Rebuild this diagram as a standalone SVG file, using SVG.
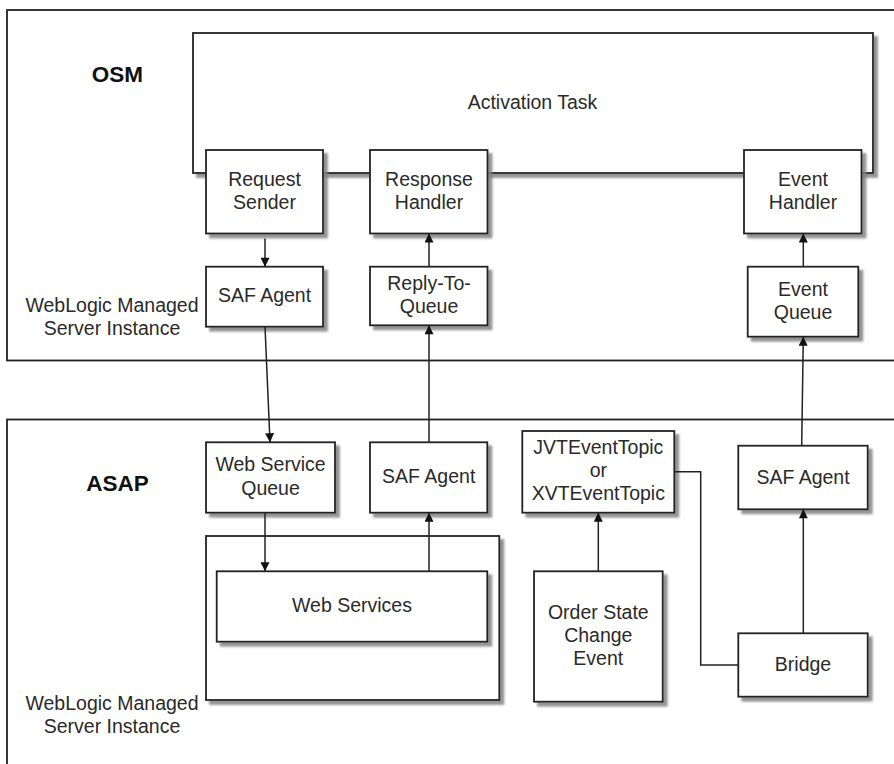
<svg xmlns="http://www.w3.org/2000/svg" width="894" height="764" viewBox="0 0 894 764">
<defs>
<filter id="ds" x="-10%" y="-10%" width="130%" height="130%">
<feDropShadow dx="4" dy="4" stdDeviation="1.3" flood-color="#808080" flood-opacity="0.85"/>
</filter>
<marker id="ah" viewBox="0 0 10 10" refX="10" refY="5" markerWidth="10" markerHeight="9" markerUnits="userSpaceOnUse" orient="auto">
<path d="M0,0 L10,5 L0,10 z" fill="#111"/>
</marker>
</defs>
<style>
.box{fill:#fff;stroke:#222;stroke-width:1.8;filter:url(#ds)}
.frame{fill:none;stroke:#222;stroke-width:1.8}
.t{font-family:"Liberation Sans",Arial,sans-serif;font-size:19.5px;fill:#2a2a2a;text-anchor:middle}
.h{font-family:"Liberation Sans",Arial,sans-serif;font-size:22.5px;font-weight:bold;fill:#111;text-anchor:middle}
.c{fill:none;stroke:#222;stroke-width:1.5}
.a{marker-end:url(#ah)}
</style>
<rect width="894" height="764" fill="#fff"/>

<g id="osm">
<rect class="frame" x="7" y="10" width="900" height="350.5"/>
<text class="h" x="117.5" y="82">OSM</text>
<text class="t" x="112" y="312">WebLogic Managed</text>
<text class="t" x="112" y="334.5">Server Instance</text>
</g>

<g id="asap">
<rect class="frame" x="7" y="419.5" width="900" height="360"/>
<text class="h" x="117.5" y="491">ASAP</text>
<text class="t" x="112" y="709.5">WebLogic Managed</text>
<text class="t" x="112" y="732.5">Server Instance</text>
</g>

<g id="activation-task">
<rect class="box" x="193" y="33" width="680" height="140"/>
<text class="t" x="532.5" y="108.5">Activation Task</text>
</g>

<g id="request-sender">
<rect class="box" x="206" y="150" width="117" height="83.5"/>
<text class="t" x="264.5" y="186">Request</text>
<text class="t" x="264.5" y="209">Sender</text>
</g>

<g id="response-handler">
<rect class="box" x="370" y="150" width="117.5" height="83.5"/>
<text class="t" x="429" y="186">Response</text>
<text class="t" x="429" y="209">Handler</text>
</g>

<g id="event-handler">
<rect class="box" x="744" y="150" width="117.5" height="83.5"/>
<text class="t" x="803" y="186">Event</text>
<text class="t" x="803" y="209">Handler</text>
</g>

<g id="saf-agent-osm">
<rect class="box" x="206" y="266.7" width="117" height="60"/>
<text class="t" x="264.5" y="302">SAF Agent</text>
</g>

<g id="reply-to-queue">
<rect class="box" x="370" y="266.7" width="117.5" height="58.6"/>
<text class="t" x="429" y="289.5">Reply-To-</text>
<text class="t" x="429" y="313">Queue</text>
</g>

<g id="event-queue">
<rect class="box" x="747.7" y="266.7" width="110.6" height="70"/>
<text class="t" x="803" y="296">Event</text>
<text class="t" x="803" y="318.5">Queue</text>
</g>

<g id="web-service-queue">
<rect class="box" x="206" y="442.3" width="129" height="70.4"/>
<text class="t" x="270.5" y="471">Web Service</text>
<text class="t" x="270.5" y="494.5">Queue</text>
</g>

<g id="saf-agent-asap">
<rect class="box" x="370" y="442.3" width="117.3" height="70.4"/>
<text class="t" x="428.7" y="483">SAF Agent</text>
</g>

<g id="web-services-container">
<rect class="box" x="206" y="536" width="293.3" height="164"/>
</g>

<g id="web-services">
<rect class="box" x="216.7" y="571.3" width="270.6" height="70.4"/>
<text class="t" x="352" y="611.5">Web Services</text>
</g>

<g id="event-topic">
<rect class="box" x="522.3" y="431" width="152" height="81.7"/>
<text class="t" x="598.3" y="454">JVTEventTopic</text>
<text class="t" x="598.3" y="477">or</text>
<text class="t" x="598.3" y="500">XVTEventTopic</text>
</g>

<g id="order-state-change-event">
<rect class="box" x="534" y="571.3" width="128.7" height="130.4"/>
<text class="t" x="598.3" y="618.5">Order State</text>
<text class="t" x="598.3" y="641.5">Change</text>
<text class="t" x="598.3" y="665">Event</text>
</g>

<g id="saf-agent-bridge">
<rect class="box" x="738.3" y="445.7" width="129.4" height="63.6"/>
<text class="t" x="803" y="483.5">SAF Agent</text>
</g>

<g id="bridge">
<rect class="box" x="738.3" y="633.3" width="129.4" height="63.4"/>
<text class="t" x="803" y="670.5">Bridge</text>
</g>

<g id="connectors">
<line class="c a" x1="265" y1="238.5" x2="265" y2="266.7"/>
<line class="c a" x1="429" y1="266.7" x2="429" y2="233.5"/>
<line class="c a" x1="803.3" y1="266.7" x2="803.3" y2="233.5"/>
<line class="c a" x1="265" y1="326.7" x2="270" y2="442.3"/>
<line class="c a" x1="429" y1="442.3" x2="429" y2="325.3"/>
<line class="c a" x1="801.7" y1="445.7" x2="803.3" y2="336.7"/>
<line class="c a" x1="265" y1="512.7" x2="265" y2="571.3"/>
<line class="c a" x1="429" y1="571.3" x2="429" y2="512.7"/>
<line class="c a" x1="598.3" y1="571.3" x2="598.3" y2="512.7"/>
<line class="c a" x1="803.3" y1="633.3" x2="803.3" y2="509.3"/>
<polyline class="c" points="674.3,471.7 700.7,471.7 700.7,665 738.3,665"/>
</g>
</svg>
